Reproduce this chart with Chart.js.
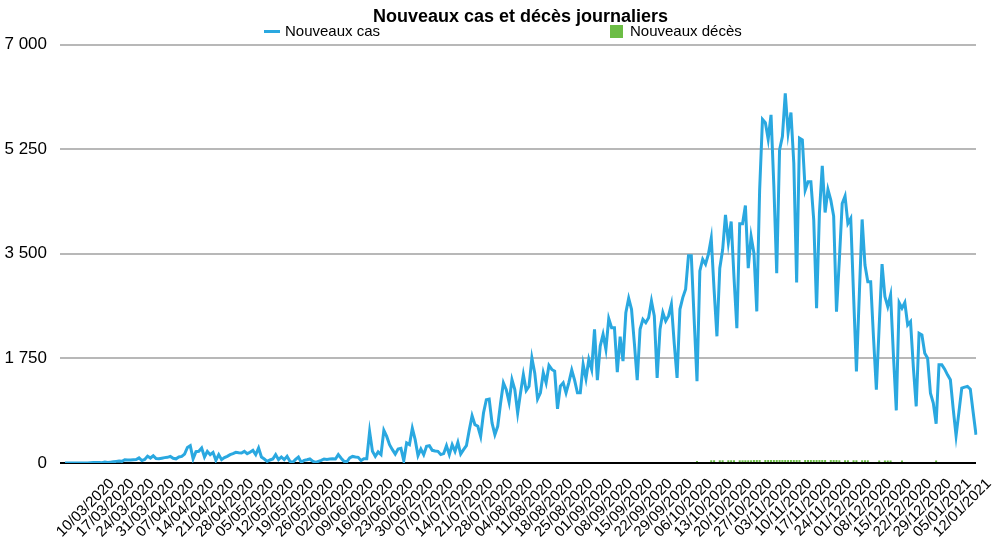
<!DOCTYPE html>
<html lang="fr">
<head>
  <meta charset="UTF-8">
  <title>Nouveaux cas et décès journaliers</title>
  <script src="https://cdn.jsdelivr.net/npm/chart.js"></script>
  <style>
    body {
      margin: 0;
      padding: 0;
      background: #fff;
      font-family: "Liberation Sans", Arial, sans-serif;
    }
    #wrap {
      position: relative;
      width: 1000px;
      height: 547px;
    }
    .leg {
      position: absolute;
      font-size: 15px;
      color: #000;
      line-height: 18px;
      top: 22px;
    }
    .sym {
      position: absolute;
    }
  </style>
</head>
<body>
  <div id="wrap">
    <canvas id="casChart" width="1000" height="547"></canvas>
    <!-- légende posée à la main, comme dans l'original -->
    <div class="sym" style="left:264px; top:30px; width:16px; height:3px; background:#2aa8e0;"></div>
    <div class="leg" style="left:285px;">Nouveaux cas</div>
    <div class="sym" style="left:610px; top:25px; width:13px; height:13px; background:#6cbd45;"></div>
    <div class="leg" style="left:630px;">Nouveaux décès</div>
  </div>

  <script>
    // premier jour de la série : 04/03/2020, un point par jour jusqu'au 18/01/2021
    const premierJour = Date.UTC(2020, 2, 4);

    // étiquettes affichées sur l'axe (une par semaine)
    const etiquettes = [
      '10/03/2020', '17/03/2020', '24/03/2020', '31/03/2020', '07/04/2020', '14/04/2020',
      '21/04/2020', '28/04/2020', '05/05/2020', '12/05/2020', '19/05/2020', '26/05/2020',
      '02/06/2020', '09/06/2020', '16/06/2020', '23/06/2020', '30/06/2020', '07/07/2020',
      '14/07/2020', '21/07/2020', '28/07/2020', '04/08/2020', '11/08/2020', '18/08/2020',
      '25/08/2020', '01/09/2020', '08/09/2020', '15/09/2020', '22/09/2020', '29/09/2020',
      '06/10/2020', '13/10/2020', '20/10/2020', '27/10/2020', '03/11/2020', '10/11/2020',
      '17/11/2020', '24/11/2020', '01/12/2020', '08/12/2020', '15/12/2020', '22/12/2020',
      '29/12/2020', '05/01/2021', '12/01/2021'
    ];

    // nouveaux cas, mois par mois
    const casMars = [0, 0, 0, 1, 0, 0, 1, 1, 0, 5, 10, 10, 9, 6, 17, 9, 14, 20, 27, 34,
      28, 55, 50, 50, 56, 57, 85, 40];
    const casAvril = [60, 115, 83, 120, 75, 70, 80, 90, 95, 110, 80, 70, 100, 110, 150, 260, 290, 70, 190,
      195, 251, 100, 195, 140, 178, 45, 140, 56, 90, 112];
    const casMai = [140, 156, 178, 170, 167, 195, 156, 180, 212, 140, 251, 100, 67, 28, 50, 67, 140, 56, 100, 56,
      112, 28, 11, 60, 100, 11, 45, 55, 67, 30, 11];
    const casJuin = [28, 45, 67, 60, 67, 70, 67, 140, 80, 28, 20, 84, 110, 100, 95, 40, 70, 70, 525, 195,
      110, 185, 140, 547, 445, 307, 223, 150, 234, 245];
    const casJuillet = [40, 335, 307, 580, 390, 123, 234, 140, 280, 290, 212, 200, 195, 140, 156, 290, 140, 307, 195, 346,
      150, 223, 290, 550, 792, 642, 614, 446, 837, 1060, 1071];
    const casAout = [670, 474, 614, 1000, 1340, 1228, 1016, 1395, 1228, 837, 1172, 1479, 1211, 1284, 1758, 1507, 1071, 1174, 1509, 1342,
      1632, 1565, 1537, 906, 1286, 1342, 1174, 1350, 1554, 1386, 1174];
    const casSeptembre = [1174, 1649, 1409, 1733, 1565, 2236, 1386, 1957, 2152, 1901, 2415, 2264, 2264, 1520, 2113, 1705, 2516, 2756, 2571, 2000,
      1386, 2236, 2404, 2348, 2432, 2711, 2460, 1425, 2236, 2516];
    const casOctobre = [2376, 2460, 2655, 2000, 1425, 2571, 2767, 2907, 3466, 3466, 2400, 1370, 3214, 3410, 3326, 3494, 3762, 2900, 2120, 3260,
      3567, 4152, 3689, 4040, 3100, 2257, 4001, 4001, 4308, 3260, 3790];
    const casNovembre = [3511, 2536, 4570, 5751, 5696, 5417, 5824, 4626, 3177, 5239, 5462, 6186, 5528, 5863, 5016, 3021, 5434, 5406, 4565, 4704,
      4704, 4068, 2591, 4180, 4971, 4191, 4576, 4398, 4131, 2533];
    const casDecembre = [3400, 4342, 4465, 4008, 4092, 2800, 1531, 2800, 4075, 3312, 3034, 3034, 2100, 1225, 2300, 3329, 2784, 2616, 2811, 1800,
      880, 2683, 2589, 2683, 2310, 2366, 1600, 946, 2171, 2143, 1837];
    const casJanvier = [1754, 1169, 1002, 657, 1642, 1642, 1570, 1475, 1392, 900, 456, 850, 1253, 1270, 1280, 1236, 850, 473];

    // nouveaux décès : seuls les jours renseignés
    const decesJours = [
      '12/10/2020', '17/10/2020', '18/10/2020', '20/10/2020', '21/10/2020', '23/10/2020', '24/10/2020', '25/10/2020',
      '27/10/2020', '28/10/2020', '29/10/2020', '30/10/2020', '31/10/2020', '01/11/2020', '02/11/2020', '03/11/2020',
      '05/11/2020', '06/11/2020', '07/11/2020', '08/11/2020', '09/11/2020', '10/11/2020', '11/11/2020', '12/11/2020',
      '13/11/2020', '14/11/2020', '15/11/2020', '16/11/2020', '17/11/2020', '19/11/2020', '20/11/2020', '21/11/2020',
      '22/11/2020', '23/11/2020', '24/11/2020', '25/11/2020', '26/11/2020', '28/11/2020', '29/11/2020', '30/11/2020',
      '01/12/2020', '03/12/2020', '04/12/2020', '06/12/2020', '07/12/2020', '09/12/2020', '10/12/2020', '11/12/2020',
      '15/12/2020', '17/12/2020', '18/12/2020', '19/12/2020', '23/12/2020', '04/01/2021'
    ];
    const decesValeurs = [
      35, 45, 45, 45, 45, 45, 45, 45,
      45, 45, 45, 45, 45, 50, 50, 50,
      50, 50, 50, 50, 50, 50, 50, 50,
      50, 50, 50, 50, 50, 50, 50, 50,
      50, 50, 50, 50, 50, 50, 50, 50,
      45, 45, 45, 45, 45, 45, 45, 45,
      40, 40, 40, 40, 40, 40
    ];

    const nouveauxCas = [].concat(casMars, casAvril, casMai, casJuin, casJuillet, casAout,
      casSeptembre, casOctobre, casNovembre, casDecembre, casJanvier);

    function formatJour(t) {
      const d = new Date(t);
      const jj = String(d.getUTCDate()).padStart(2, '0');
      const mm = String(d.getUTCMonth() + 1).padStart(2, '0');
      return jj + '/' + mm + '/' + d.getUTCFullYear();
    }

    const jours = nouveauxCas.map((_, i) => formatJour(premierJour + i * 86400000));
    const nouveauxDeces = decesJours.map((j, i) => ({ x: j, y: decesValeurs[i] }));

    const police = '"Liberation Sans", Arial, sans-serif';

    new Chart(document.getElementById('casChart'), {
      data: {
        labels: jours,
        datasets: [
          {
            type: 'line',
            label: 'Nouveaux cas',
            data: nouveauxCas,
            borderColor: '#2aa8e0',
            borderWidth: 3,
            pointRadius: 0,
            tension: 0,
            order: 1
          },
          {
            type: 'bar',
            label: 'Nouveaux décès',
            data: nouveauxDeces,
            backgroundColor: '#6cbd45',
            barPercentage: 0.7,
            categoryPercentage: 1,
            order: 2
          }
        ]
      },
      options: {
        responsive: false,
        animation: false,
        layout: { padding: { left: 0, right: 24, top: 0, bottom: 0 } },
        plugins: {
          legend: { display: false },
          tooltip: { enabled: false },
          title: {
            display: true,
            text: 'Nouveaux cas et décès journaliers',
            fullSize: false,
            color: '#000',
            font: { family: police, size: 18, weight: 'bold' },
            padding: { top: 6, bottom: 17 }
          }
        },
        scales: {
          x: {
            offset: false,
            grid: { display: false },
            border: { display: false },
            ticks: {
              autoSkip: false,
              minRotation: 45,
              maxRotation: 45,
              labelOffset: 30,
              padding: 4,
              color: '#000',
              font: { family: police, size: 15 },
              callback: function (v, i) {
                const lab = jours[i];
                return etiquettes.includes(lab) ? lab : '';
              }
            },
            afterFit: function (s) { s.height = 84; }
          },
          y: {
            min: 0,
            max: 7000,
            border: { display: false },
            grid: {
              color: c => (c.tick && c.tick.value === 0) ? '#000' : '#b8b8b8',
              lineWidth: 2,
              tickLength: 5
            },
            ticks: {
              stepSize: 1750,
              padding: 13,
              color: '#000',
              font: { family: police, size: 17 },
              callback: v => v.toLocaleString('fr-FR').replace(/\s/g, ' ')
            },
            afterFit: function (s) { s.width = 65; }
          }
        }
      }
    });
  </script>
</body>
</html>
